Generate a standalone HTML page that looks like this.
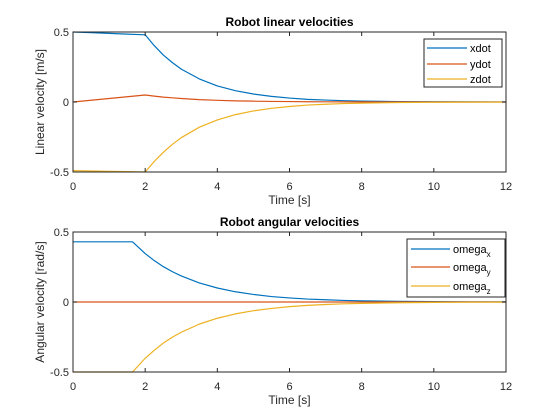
<!DOCTYPE html>
<html><head><meta charset="utf-8"><style>
body{margin:0;background:#fff;}
svg{display:block;font-family:"Liberation Sans",sans-serif;}
</style></head><body>
<svg id="fig" width="560" height="420" viewBox="0 0 560 420">
<rect width="560" height="420" fill="#fff"/>
</svg>
<script>
const tTop=[0,0.5,1,1.5,2,2.25,2.5,2.75,3,3.5,4,4.5,5,5.5,6,6.5,7,7.5,8,9,10,11,12];
const xdot=[0.5,0.495,0.49,0.485,0.48,0.403,0.336,0.282,0.235,0.165,0.115,0.081,0.057,0.040,0.028,0.019,0.014,0.0095,0.0066,0.0033,0.0016,0.0008,0.0004];
const ydot=[0,0.0125,0.025,0.0375,0.05,0.042,0.035,0.03,0.025,0.017,0.012,0.008,0.006,0.004,0.003,0.002,0.0014,0.001,0.0007,0.0003,0.0002,0.0001,0];
const zdot=[-0.49,-0.4925,-0.495,-0.4975,-0.5,-0.425,-0.36,-0.303,-0.255,-0.18,-0.128,-0.09,-0.064,-0.045,-0.032,-0.022,-0.016,-0.011,-0.008,-0.004,-0.002,-0.001,-0.0005];
const tBot=[0,1.65,2,2.25,2.5,2.75,3,3.5,4,4.5,5,5.5,6,6.5,7,7.5,8,9,10,11,12];
const omegaX=[0.43,0.43,0.346,0.296,0.253,0.217,0.186,0.136,0.100,0.073,0.054,0.039,0.029,0.021,0.016,0.011,0.0083,0.0044,0.0024,0.0013,0.0007];
const omegaY=[0,0,0,0,0,0,0,0,0,0,0,0,0,0,0,0,0,0,0,0,0];
const omegaZ=[-0.5,-0.5,-0.402,-0.345,-0.294,-0.252,-0.216,-0.158,-0.116,-0.085,-0.062,-0.046,-0.033,-0.024,-0.018,-0.013,-0.0097,-0.0052,-0.0028,-0.0015,-0.0008];
const xTicks=[0,2,4,6,8,10,12];
const yTicks=[-0.5,0,0.5];
const yTickLabels=["-0.5","0","0.5"];
const colors=["#0072BD","#D95319","#EDB120"];
const NS="http://www.w3.org/2000/svg";
const svg=document.getElementById('fig');
function mk(tag,attrs,parent){const e=document.createElementNS(NS,tag);for(const k in attrs)e.setAttribute(k,attrs[k]);(parent||svg).appendChild(e);return e;}
function axes(top,bottom,t,series,names,title,ylabel,leg,prefix){
  const L=73,R=506;
  const xs=v=>L+(v-0)/(12-0)*(R-L);
  const ys=v=>bottom-(v+0.5)/1*(bottom-top);
  const g=mk('g',{});
  
  
  series.forEach((s,i)=>{
    const p=mk('polyline',{points:s.map((v,j)=>xs(t[j]).toFixed(2)+','+ys(v).toFixed(2)).join(' '),fill:'none',stroke:colors[i],'stroke-width':1.2,'stroke-linejoin':'round'},g);
    
    
  });
  mk('rect',{x:L,y:top,width:R-L,height:bottom-top,fill:'none',stroke:'#262626','stroke-width':1},g);
  xTicks.forEach(v=>{
    const x=xs(v);
    mk('line',{x1:x,x2:x,y1:bottom,y2:bottom-4,stroke:'#262626'},g);
    mk('line',{x1:x,x2:x,y1:top,y2:top+4,stroke:'#262626'},g);
    const tx=mk('text',{x:x,y:bottom+18,'font-size':11,'text-anchor':'middle',fill:'#262626'},g);
    tx.textContent=v;
    
    
  });
  yTicks.forEach((v,i)=>{
    const y=ys(v);
    mk('line',{x1:L,x2:L+4,y1:y,y2:y,stroke:'#262626'},g);
    mk('line',{x1:R,x2:R-4,y1:y,y2:y,stroke:'#262626'},g);
    const tx=mk('text',{x:L-4,y:y+4,'font-size':11,'text-anchor':'end',fill:'#262626'},g);
    tx.textContent=yTickLabels[i];
    
    
  });
  const ti=mk('text',{x:(L+R)/2,y:top-6,'font-size':12,'font-weight':'bold','text-anchor':'middle',fill:'#000'},g);
  ti.textContent=title;
  
  
  const xl=mk('text',{x:(L+R)/2,y:bottom+32,'font-size':12,'text-anchor':'middle',fill:'#262626'},g);
  xl.textContent='Time [s]';
  
  
  const yl=mk('text',{x:0,y:0,'font-size':12,'text-anchor':'middle',fill:'#262626',transform:'translate(44,'+((top+bottom)/2)+') rotate(-90)'},g);
  yl.textContent=ylabel;
  
  
  const lg=mk('g',{},g);
  
  
  mk('rect',{x:leg.x,y:leg.y,width:leg.w,height:leg.h,fill:'#fff',stroke:'#262626','stroke-width':1},lg);
  names.forEach((n,i)=>{
    const y=leg.ey[i];
    mk('line',{x1:leg.lx1,x2:leg.lx2,y1:y,y2:y,stroke:colors[i],'stroke-width':1.2},lg);
    const tx=mk('text',{x:leg.lx2+3,y:y+4,'font-size':11,fill:'#000'},lg);
    tx.innerHTML=n;
    
    
  });
}
axes(32,172,tTop,[xdot,ydot,zdot],['xdot','ydot','zdot'],'Robot linear velocities','Linear velocity [m/s]',
  {x:424,y:39,w:78,h:48,ey:[48,64,79],lx1:427,lx2:467},'top');
axes(232,372,tBot,[omegaX,omegaY,omegaZ],
  ['omega<tspan font-size="8" dy="4">x</tspan>','omega<tspan font-size="8" dy="4">y</tspan>','omega<tspan font-size="8" dy="4">z</tspan>'],
  'Robot angular velocities','Angular velocity [rad/s]',
  {x:407,y:239,w:98,h:58,ey:[249,267,286],lx1:411,lx2:450},'bottom');
</script>
</body></html>
